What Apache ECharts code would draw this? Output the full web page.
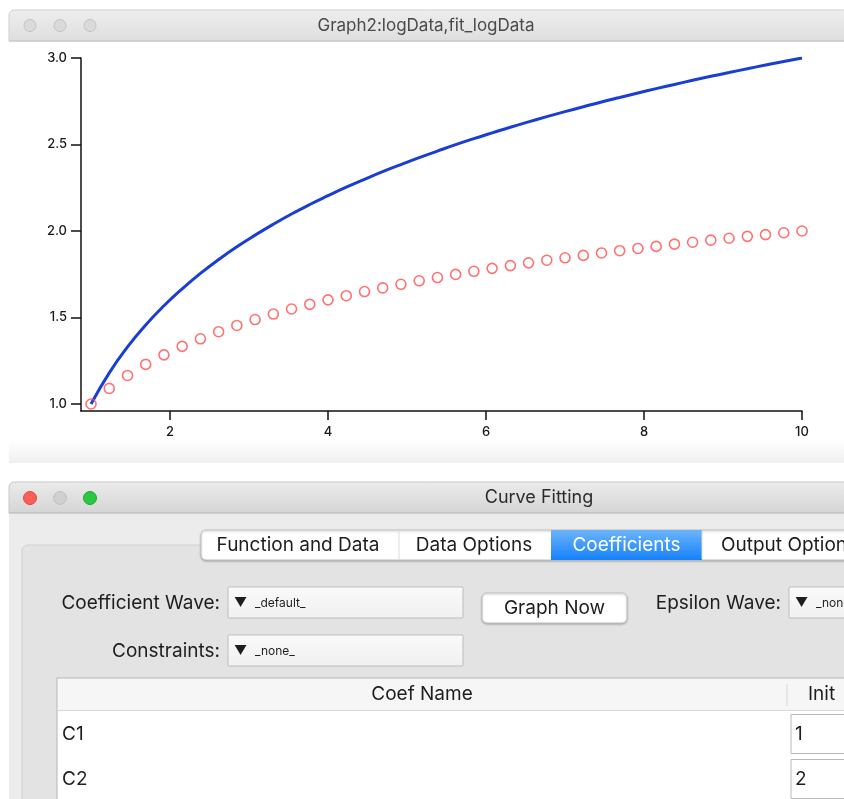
<!DOCTYPE html>
<html>
<head>
<meta charset="utf-8">
<script src="https://cdn.jsdelivr.net/npm/echarts@6/dist/echarts.min.js"></script>
<style>
  html, body { margin: 0; padding: 0; background: #ffffff; }
  #chart { width: 844px; height: 799px; }
</style>
</head>
<body>
<div id="chart"></div>
<script>
// ---- data ----
const xValues = [1.000, 1.231, 1.462, 1.692, 1.923, 2.154, 2.385, 2.615, 2.846, 3.077,
                 3.308, 3.538, 3.769, 4.000, 4.231, 4.462, 4.692, 4.923, 5.154, 5.385,
                 5.615, 5.846, 6.077, 6.308, 6.538, 6.769, 7.000, 7.231, 7.462, 7.692,
                 7.923, 8.154, 8.385, 8.615, 8.846, 9.077, 9.308, 9.538, 9.769, 10.000];
const logData = [1.000, 1.090, 1.165, 1.229, 1.284, 1.333, 1.377, 1.418, 1.454, 1.488,
                 1.520, 1.549, 1.576, 1.602, 1.626, 1.650, 1.671, 1.692, 1.712, 1.731,
                 1.749, 1.767, 1.784, 1.800, 1.816, 1.831, 1.845, 1.859, 1.873, 1.886,
                 1.899, 1.911, 1.924, 1.935, 1.947, 1.958, 1.969, 1.979, 1.990, 2.000];
const fitLogData = [1.000, 1.180, 1.330, 1.457, 1.568, 1.666, 1.755, 1.835, 1.909, 1.976,
                    2.039, 2.098, 2.153, 2.204, 2.253, 2.299, 2.343, 2.384, 2.424, 2.462,
                    2.499, 2.534, 2.567, 2.600, 2.631, 2.661, 2.690, 2.718, 2.746, 2.772,
                    2.798, 2.823, 2.847, 2.871, 2.894, 2.916, 2.938, 2.959, 2.980, 3.000];
const xTicks = [2, 4, 6, 8, 10];
const yTicks = [1.0, 1.5, 2.0, 2.5, 3.0];
const tabNames = ['Function and Data', 'Data Options', 'Coefficients', 'Output Options'];
const coefNames = ['C1', 'C2'];
const coefInit = ['1', '2'];

const UI = 'Inter, "Liberation Sans", sans-serif';
const UISIZE = 19;

const chart = echarts.init(document.getElementById('chart'), null, { renderer: 'canvas' });

function txt(x, y, s, size, opts) {
  opts = opts || {};
  return {
    type: 'text', x: x, y: y, z: 100,
    style: {
      text: s, fontSize: size, fontFamily: UI,
      fill: opts.fill || '#1e1e1e',
      align: opts.align || 'left', verticalAlign: 'middle',
      fontWeight: opts.weight || 'normal'
    }
  };
}
function rect(x, y, w, h, fill, stroke, r, extra) {
  const e = {
    type: 'rect', z: extra && extra.z != null ? extra.z : 50,
    shape: { x: x, y: y, width: w, height: h, r: r || 0 },
    style: { fill: fill, stroke: stroke || null, lineWidth: 1 }
  };
  if (extra && extra.shadow) {
    e.style.shadowBlur = 2; e.style.shadowColor = 'rgba(0,0,0,0.25)'; e.style.shadowOffsetY = 1;
  }
  return e;
}
function vline(x, y1, y2, color, z) {
  return { type: 'line', z: z || 60, shape: { x1: x, y1: y1, x2: x, y2: y2 }, style: { stroke: color, lineWidth: 1 } };
}
function hline(x1, x2, y, color, z) {
  return { type: 'line', z: z || 60, shape: { x1: x1, y1: y, x2: x2, y2: y }, style: { stroke: color, lineWidth: 1 } };
}
function circ(cx, cy, r, fill, stroke) {
  return { type: 'circle', z: 70, shape: { cx: cx, cy: cy, r: r }, style: { fill: fill, stroke: stroke, lineWidth: 1 } };
}
function vgrad(c1, c2) {
  return new echarts.graphic.LinearGradient(0, 0, 0, 1, [{ offset: 0, color: c1 }, { offset: 1, color: c2 }]);
}

const elements = [];
// Graph window title bar
elements.push(rect(9, 10, 860, 31, vgrad('#eeeeee', '#dedede'), '#cfcfcf', [5, 5, 0, 0]));
elements.push(hline(9, 844, 41, '#c4c4c4'));
elements.push(circ(30, 25.5, 6, '#dadada', '#c4c4c4'));
elements.push(circ(60, 25.5, 6, '#dadada', '#c4c4c4'));
elements.push(circ(90, 25.5, 6, '#dadada', '#c4c4c4'));
elements.push(txt(426, 25.5, 'Graph2:logData,fit_logData', 17, { align: 'center', fill: '#4a4a4a' }));
// Graph window bottom fade
elements.push(rect(9, 440, 860, 23, vgrad('#ffffff', '#efefef'), null, 0, { z: 1 }));

// Curve Fitting window
elements.push(rect(9, 482, 860, 31, vgrad('#ebebeb', '#d5d5d5'), '#c8c8c8', [5, 5, 0, 0]));
elements.push(hline(9, 844, 513, '#b9b9b9'));
elements.push(circ(30, 498, 6.5, '#fc5f57', '#e0443e'));
elements.push(circ(60, 498, 6.5, '#d0d0d0', '#c0c0c0'));
elements.push(circ(90, 498, 6.5, '#2ac840', '#1ea82f'));
elements.push(txt(539, 498, 'Curve Fitting', 18, { align: 'center', fill: '#2b2b2b' }));
elements.push(rect(9, 514, 860, 300, '#ececec', null, 0, { z: 40 }));
// group box
elements.push(rect(22, 545, 860, 300, '#e3e3e3', '#d2d2d2', 6, { z: 45 }));
// tabs
elements.push(rect(201, 530, 700, 30, '#ffffff', '#c6c6c6', 5, { z: 55, shadow: true }));
elements.push(rect(551, 530, 151, 30, vgrad('#6cb4fb', '#1681fb'), null, 0, { z: 56 }));
elements.push(vline(399, 531, 559, '#dcdcdc'));
elements.push(vline(702, 531, 559, '#dcdcdc'));
const tabCenters = [298, 474, 626.5, null];
tabNames.forEach(function (t, i) {
  if (i === 3) elements.push(txt(721, 545, t, UISIZE));
  else elements.push(txt(tabCenters[i], 545, t, UISIZE, { align: 'center', fill: i === 2 ? '#ffffff' : '#1e1e1e' }));
});

// Row 1
elements.push(txt(220, 603, 'Coefficient Wave:', UISIZE, { align: 'right' }));
elements.push(rect(228, 587, 235, 31, vgrad('#fafafa', '#f0f0f0'), '#bdbdbd', 1));
elements.push(txt(234, 603, '▼', 13));
elements.push(txt(255, 603, '_default_', 12));
elements.push(rect(482, 593, 145, 30, '#ffffff', '#c4c4c4', 5, { shadow: true }));
elements.push(txt(554.5, 608, 'Graph Now', UISIZE, { align: 'center' }));
elements.push(txt(781, 603, 'Epsilon Wave:', UISIZE, { align: 'right' }));
elements.push(rect(789, 587, 100, 31, vgrad('#fafafa', '#f0f0f0'), '#bdbdbd', 1));
elements.push(txt(795, 603, '▼', 13));
elements.push(txt(816, 603, '_none_', 12));
// Row 2
elements.push(txt(220, 651, 'Constraints:', UISIZE, { align: 'right' }));
elements.push(rect(228, 635, 235, 31, vgrad('#fafafa', '#f0f0f0'), '#bdbdbd', 1));
elements.push(txt(234, 651, '▼', 13));
elements.push(txt(255, 651, '_none_', 12));

// Table
elements.push(rect(57, 678, 860, 200, '#ffffff', '#b4b4b4', 0));
elements.push(rect(58, 679, 860, 31, '#f6f6f6', null, 0, { z: 52 }));
elements.push(hline(58, 844, 710.5, '#d8d8d8'));
elements.push(vline(787, 684, 706, '#d6d6d6'));
elements.push(txt(422, 694, 'Coef Name', UISIZE, { align: 'center' }));
elements.push(txt(808, 694, 'Init', UISIZE));
const rowY = [734, 779];
coefNames.forEach(function (n, i) {
  elements.push(txt(62, rowY[i], n, UISIZE));
  elements.push(rect(791, rowY[i] - 19.5, 80, 39, '#ffffff', '#b9b9b9', 0));
  elements.push(txt(795, rowY[i], coefInit[i], UISIZE));
});

const axisFont = { fontFamily: UI, fontSize: 13, fontWeight: 500, color: '#1a1a1a' };

const option = {
  animation: false,
  backgroundColor: '#ffffff',
  grid: { left: 81, right: 42, top: 58, bottom: 388, containLabel: false },
  xAxis: {
    type: 'value', min: 0.873, max: 10,
    axisLine: { show: true, onZero: false, lineStyle: { color: '#111', width: 1.5 } },
    axisTick: { show: true, length: 9, customValues: xTicks, lineStyle: { color: '#111', width: 1.5 } },
    axisLabel: Object.assign({ customValues: xTicks, margin: 15 }, axisFont),
    splitLine: { show: false }
  },
  yAxis: {
    type: 'value', min: 0.9595, max: 3,
    axisLine: { show: true, onZero: false, lineStyle: { color: '#111', width: 1.5 } },
    axisTick: { show: true, length: 10, customValues: yTicks, lineStyle: { color: '#111', width: 1.5 } },
    axisLabel: Object.assign({ customValues: yTicks, margin: 14, formatter: function (v) { return v.toFixed(1); } }, axisFont),
    splitLine: { show: false }
  },
  series: [
    {
      name: 'fit_logData', type: 'line', smooth: true, showSymbol: false, z: 3,
      data: xValues.map(function (x, i) { return [x, fitLogData[i]]; }),
      lineStyle: { color: '#1a3fd0', width: 3 }
    },
    {
      name: 'logData', type: 'scatter', symbol: 'circle', symbolSize: 10, z: 4,
      data: xValues.map(function (x, i) { return [x, logData[i]]; }),
      itemStyle: { color: 'rgba(255,255,255,0)', borderColor: '#ff4f4f', borderWidth: 1.6 }
    }
  ],
  graphic: { elements: elements }
};
chart.setOption(option);
</script>
</body>
</html>
